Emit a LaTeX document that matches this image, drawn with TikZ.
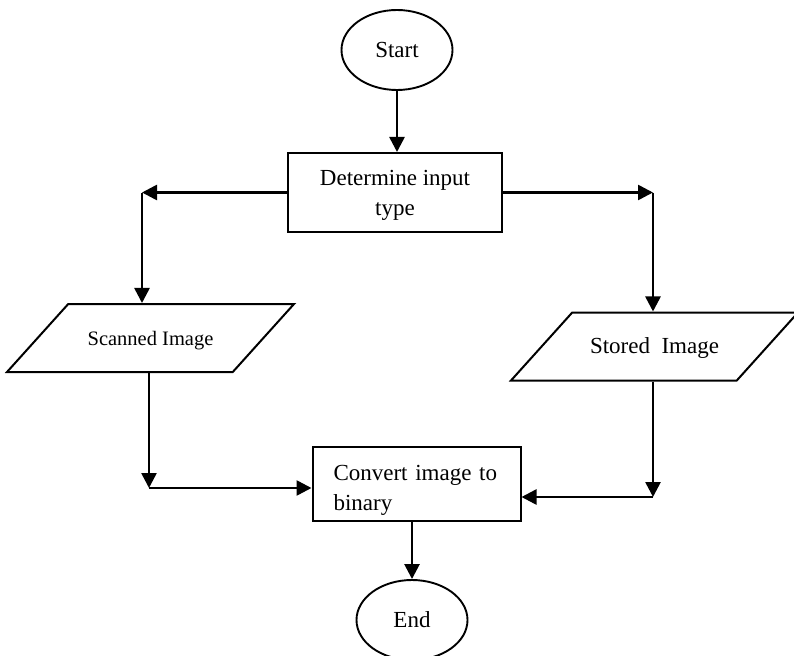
\documentclass[tikz,border=0pt]{standalone}
\usepackage{fontspec}
\setmainfont{Liberation Serif}
\usetikzlibrary{arrows.meta,shapes.geometric}
\tikzset{
  flow/.style={-{Triangle[length=15pt,width=15pt]},line width=2.6pt},
  term/.style={ellipse,draw,line width=1.9pt,minimum width=111pt,minimum height=80pt,inner sep=0pt,
    font=\fontsize{23}{30}\selectfont},
  proc/.style={rectangle,draw,line width=2pt,inner sep=0pt,font=\fontsize{23}{30}\selectfont},
  io/.style={trapezium,trapezium left angle=48,trapezium right angle=132,trapezium stretches body,
    draw,line width=2pt,minimum width=287pt,text height=14pt,text depth=0pt,inner ysep=27pt,inner xsep=0pt},
}

\begin{document}
\begin{tikzpicture}[x=1pt,y=-1pt]
  \useasboundingbox (0,0) rectangle (794,655);
  \node[term] (start) at (397,50) {Start};
  \node[proc,minimum width=214pt,minimum height=79pt,align=center,text height=50pt] (det) at (395,192.5) {Determine input\\type};
  \node[io,font=\fontsize{20.5}{25}\selectfont] (scan) at (150.5,338) {Scanned Image};
  \node[io,font=\fontsize{23}{30}\selectfont] (stor) at (654.5,346.5) {Stored\ \ Image};
  \node[proc,text width=166pt,inner xsep=21pt,minimum height=74pt,align=left,text height=28pt] (conv) at (416.5,484) {Convert image to\\binary};
  \node[term] (end) at (412,620) {End};
  \coordinate (lc) at (142,192.5);
  \coordinate (rc) at (653,192.5);
  \coordinate (lb) at (149,488);
  \coordinate (rb) at (653,497);
  \draw[flow] (start.south) -- (start.south |- det.north);
  \draw[flow] (det.west) -- (lc);
  \draw[flow] (lc) -- (lc |- scan.north);
  \draw[flow] (det.east) -- (rc);
  \draw[flow] (rc) -- (rc |- stor.north);
  \draw[flow] (lb |- scan.south) -- (lb);
  \draw[flow] (lb) -- (lb -| conv.west);
  \draw[flow] (rb |- stor.south) -- (rb);
  \draw[flow] (rb) -- (rb -| conv.east);
  \draw[flow] (end.north |- conv.south) -- (end.north);
\end{tikzpicture}
\end{document}
